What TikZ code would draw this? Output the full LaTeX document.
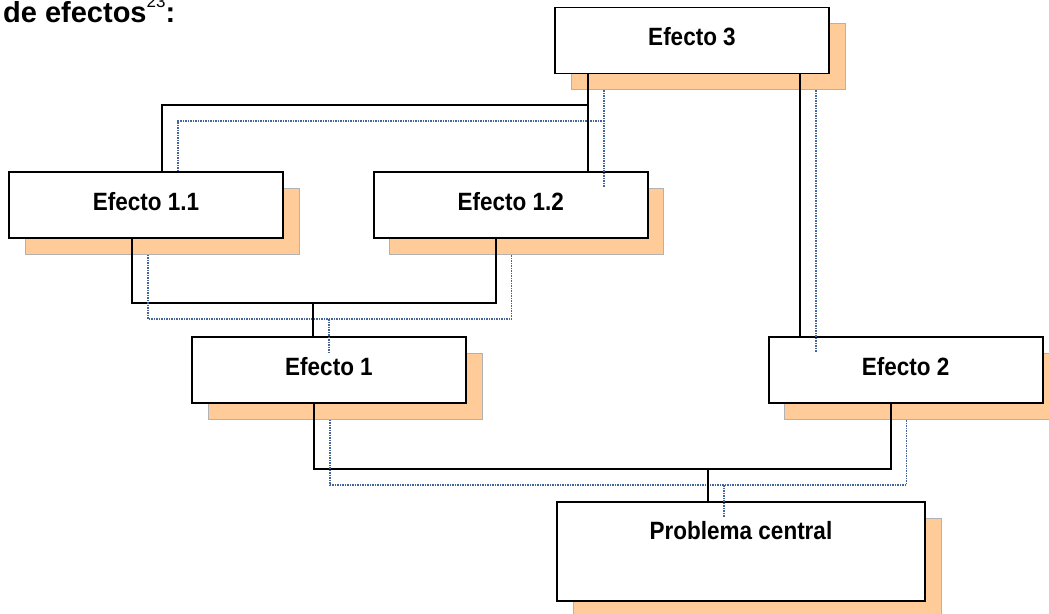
\documentclass[tikz,border=0pt]{standalone}
\usepackage{fontspec}
\setmainfont{Liberation Sans}
\newfontfamily\narrowfont{Liberation Sans}[FakeStretch=0.9]
\usetikzlibrary{positioning,shadows}
\definecolor{ShadowPeach}{HTML}{FFCC99}
\definecolor{WireBlue}{HTML}{44659C}

\begin{document}
\begin{tikzpicture}[x=1pt, y=-1pt,
                    every node/.style={inner sep=0pt},
                    efbox/.style={draw, line width=1.7pt, fill=white,
                                  minimum width=274pt, minimum height=66pt, text depth=8pt,
                                  font=\narrowfont\bfseries\fontsize{25}{30}\selectfont,
                                  general shadow={fill=ShadowPeach, draw=black!30, line width=0.5pt,
                                                  shadow xshift=16pt, shadow yshift=-16pt}},
                    link/.style={line width=1.7pt,
                                 postaction={draw=WireBlue, line width=1.5pt, densely dotted,
                                             transform canvas={shift={(16pt,-16pt)}}, #1}},
                    link/.default={}]
\useasboundingbox (0,0) rectangle (1049,613);
\node[anchor=base west, font=\bfseries\fontsize{29}{34}\selectfont] (title) at (3,23)
    {de efectos\raisebox{15pt}{\mdseries\fontsize{17}{17}\selectfont 23}:};
\node[efbox] (e3) at (692,40.5) {Efecto 3};
\node[efbox] (e11) at (146,205) {Efecto 1.1};
\node[efbox, right=89pt of e11] (e12) {Efecto 1.2};
\node[efbox] (e1) at (329,370) {Efecto 1};
\node[efbox, right=301pt of e1] (e2) {Efecto 2};
\node[efbox, minimum width=368pt, minimum height=99pt, text depth=43pt] (pc) at (741,551.5) {Problema central};
\coordinate (j3) at (588,105);
\coordinate (k2) at (800,200);
\coordinate (j1) at (313,303);
\coordinate (j0) at (708,469);
% ramas hacia Efecto 3
\draw[link={shorten <=16pt}] ([xshift=16]e11.north) |- (j3);
\draw[link] (e3.south -| j3) -- (e12.north -| j3);
\draw[link] (e3.south -| k2) -- (e2.north -| k2);
% Efecto 1.1 y 1.2 hacia Efecto 1
\draw[link] ([xshift=-14]e11.south) |- (j1) -| ([xshift=-15]e12.south);
\draw[link] (j1) -- (e1.north -| j1);
% Efecto 1 y 2 hacia el problema central
\draw[link] ([xshift=-15]e1.south) |- (j0) -| ([xshift=-15]e2.south);
\draw[link] (j0) -- (pc.north -| j0);
\end{tikzpicture}
\end{document}
